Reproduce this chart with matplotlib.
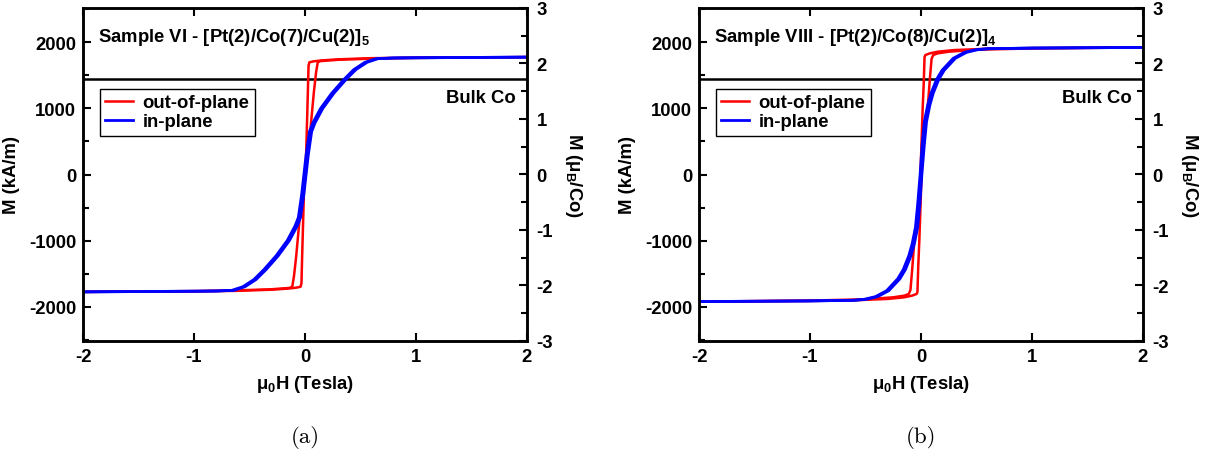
import numpy as np
import matplotlib.pyplot as plt
from matplotlib.ticker import MultipleLocator

plt.rcParams['font.family'] = ['Liberation Sans', 'DejaVu Sans']
plt.rcParams['font.weight'] = 'bold'
plt.rcParams['axes.unicode_minus'] = False
plt.rcParams['mathtext.fontset'] = 'custom'
plt.rcParams['mathtext.rm'] = 'Liberation Sans:bold'
plt.rcParams['mathtext.it'] = 'Liberation Sans:bold'
plt.rcParams['mathtext.bf'] = 'Liberation Sans:bold'

# bulk Co magnetisation (kA/m) and conversion kA/m -> muB/Co
bulk_co = 1446
ka_per_mub = 1446 / 1.72

# panel (a): Sample VI, descending branches (H in Tesla, M in kA/m)
# ascending branch = mirror image (-H, -M)
a_red_h = [2.0, 1.0, 0.6, 0.3, 0.15, 0.08, 0.04, 0.032, 0.025, 0.015, 0.005, -0.02,
           -0.05, -0.08, -0.1, -0.115, -0.14, -0.3, -0.6, -1.0, -2.0]
a_red_m = [1778, 1770, 1762, 1745, 1728, 1715, 1700, 1650, 1200, 600, 0, -330,
           -700, -1250, -1550, -1700, -1718, -1738, -1755, -1766, -1778]
a_blue_h = [2.0, 1.0, 0.79, 0.64, 0.54, 0.44, 0.35, 0.24, 0.14, 0.07, 0.04, 0.01,
            -0.01, -0.03, -0.06, -0.09, -0.16, -0.26, -0.37, -0.46, -0.56, -0.66,
            -0.81, -1.01, -2.0]
a_blue_m = [1778, 1768, 1765, 1755, 1700, 1590, 1440, 1230, 1000, 780, 650, 300,
            0, -300, -650, -780, -1000, -1230, -1440, -1590, -1700, -1755,
            -1765, -1768, -1778]

# panel (b): Sample VIII
b_red_h = [2.0, 1.0, 0.6, 0.3, 0.15, 0.08, 0.04, 0.032, 0.025, 0.015, 0.005, -0.005,
           -0.02, -0.04, -0.06, -0.08, -0.095, -0.11, -0.15, -0.25, -0.5, -1.0, -2.0]
b_red_m = [1925, 1915, 1905, 1885, 1860, 1835, 1810, 1780, 1400, 1000, 500, 0,
           -500, -850, -1000, -1450, -1750, -1810, -1835, -1860, -1890, -1910, -1925]
b_blue_h = [2.0, 0.99, 0.59, 0.49, 0.39, 0.29, 0.19, 0.14, 0.09, 0.06, 0.03, 0.01,
            -0.008, -0.03, -0.05, -0.08, -0.11, -0.16, -0.21, -0.31, -0.41, -0.51,
            -0.61, -1.01, -2.0]
b_blue_m = [1925, 1915, 1905, 1890, 1850, 1760, 1580, 1440, 1230, 1050, 800, 450,
            0, -450, -800, -1050, -1230, -1440, -1580, -1760, -1850, -1890,
            -1905, -1915, -1925]

panels = [
    ('Sample VI - [Pt(2)/Co(7)/Cu(2)]$_5$', a_red_h, a_red_m, a_blue_h, a_blue_m, '(a)'),
    ('Sample VIII - [Pt(2)/Co(8)/Cu(2)]$_4$', b_red_h, b_red_m, b_blue_h, b_blue_m, '(b)'),
]

fs = 13.3
fig = plt.figure(figsize=(12.14, 4.6), dpi=100)
lefts = [83 / 1214, 699 / 1214]
ylim_ka = 3 * ka_per_mub

for (title, rh, rm, bh, bm, cap), left in zip(panels, lefts):
    ax = fig.add_axes([left, 118 / 460, 444 / 1214, 333 / 460])
    rh, rm, bh, bm = map(np.array, (rh, rm, bh, bm))

    ax.axhline(bulk_co, color='black', lw=1.8, zorder=1)
    ax.plot(rh, rm, color='#ff0000', lw=1.8, label='out-of-plane')
    ax.plot(-rh, -rm, color='#ff0000', lw=1.8)
    ax.plot(bh, bm, color='#0000ff', lw=2.0, label='in-plane')
    ax.plot(-bh, -bm, color='#0000ff', lw=2.0)

    ax.set_xlim(-2, 2)
    ax.set_ylim(-ylim_ka, ylim_ka)
    ax.xaxis.set_major_locator(MultipleLocator(1))
    ax.yaxis.set_major_locator(MultipleLocator(1000))
    ax.yaxis.set_minor_locator(MultipleLocator(500))
    ax.tick_params(axis='both', which='major', direction='in', length=6, width=1.5,
                   labelsize=fs, top=True, pad=5)
    ax.tick_params(axis='y', which='minor', direction='in', length=4, width=1.5)
    for s in ax.spines.values():
        s.set_linewidth(1.8)

    ax.set_xlabel(r'$\mu_0$H (Tesla)', fontsize=fs, fontweight='bold', labelpad=6)
    ax.set_ylabel('M (kA/m)', fontsize=fs, fontweight='bold', labelpad=6)

    ax2 = ax.twinx()
    ax2.set_ylim(-3, 3)
    ax2.yaxis.set_major_locator(MultipleLocator(1))
    ax2.yaxis.set_minor_locator(MultipleLocator(0.5))
    ax2.tick_params(axis='y', which='major', direction='in', length=6, width=1.5,
                    labelsize=fs, pad=7)
    ax2.tick_params(axis='y', which='minor', direction='in', length=4, width=1.5)
    ax2.set_ylabel(r'M ($\mu_B$/Co)', fontsize=fs, fontweight='bold',
                   rotation=270, labelpad=22)
    for s in ax2.spines.values():
        s.set_linewidth(1.8)

    ax.text(0.033, 0.915, title, transform=ax.transAxes, fontsize=fs,
            fontweight='bold', va='center', ha='left')
    ax.text(0.975, 0.73, 'Bulk Co', transform=ax.transAxes, fontsize=fs,
            fontweight='bold', va='center', ha='right')

    leg = ax.legend(loc='upper left', bbox_to_anchor=(0.038, 0.758), fontsize=fs,
                    frameon=True, fancybox=False, edgecolor='black', framealpha=1,
                    handlelength=1.5, borderpad=0.3, labelspacing=0.12,
                    handletextpad=0.5, borderaxespad=0)
    leg.get_frame().set_linewidth(1.0)

    fig.text(left + 222 / 1214, 22 / 460, cap, fontsize=16.5, family='cmr10',
             fontweight='normal', ha='center', va='center')

fig.savefig('out.png', dpi=100)
